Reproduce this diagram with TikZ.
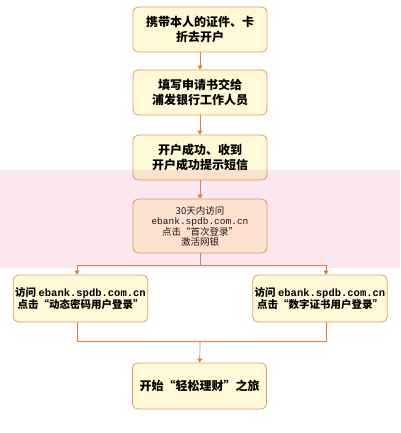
\documentclass[tikz,border=0pt]{standalone}
\usepackage{fontspec}
\setmainfont{Noto Sans CJK SC}
\newfontfamily\urlfont{Liberation Mono}
\usetikzlibrary{arrows.meta}

\definecolor{boxfill}{RGB}{255,249,216}
\definecolor{boxline}{RGB}{214,162,98}
\definecolor{flowline}{RGB}{212,130,70}
\definecolor{bandpink}{RGB}{236,110,160}

\tikzset{
  stepbox/.style={draw=boxline,fill=boxfill,rounded corners=5pt,line width=0.8pt,
    minimum width=134pt,minimum height=45pt,align=center,inner sep=2pt,
    font=\bfseries\fontsize{12}{14.5}\selectfont},
  smallbox/.style={stepbox,minimum width=133pt,minimum height=47pt,
    font=\bfseries\fontsize{10.5}{11.5}\selectfont},
  flow/.style={draw=flowline,line width=0.7pt},
  flowarrow/.style={flow,-{Triangle[width=5pt,length=4pt]}}
}

\begin{document}
\begin{tikzpicture}[x=1pt,y=-1pt]
  \useasboundingbox (0,0) rectangle (400,433);
  \node[stepbox] (carry) at (200,29.5) {携带本人的证件、卡\\折去开户};
  \node[stepbox] (apply) at (200,92.5) {填写申请书交给\\浦发银行工作人员};
  \node[stepbox] (sms) at (200,157.5) {开户成功、收到\\开户成功提示短信};
  \node[stepbox,minimum height=54pt,font=\fontsize{9.5}{10}\selectfont] (visit) at (200,226)
    {30天内访问\\{\urlfont ebank.spdb.com.cn}\\点击“首次登录”\\激活网银};
  \node[smallbox] (dyn) at (80.5,298.5) {访问 {\urlfont ebank.spdb.com.cn}\\点击“动态密码用户登录”};
  \node[smallbox] (cert) at (320,298.5) {访问 {\urlfont ebank.spdb.com.cn}\\点击“数字证书用户登录”};
  \node[stepbox,minimum height=46pt] (start) at (199.5,386) {开始“轻松理财”之旅};

  \coordinate (split) at (200,265);
  \coordinate (join) at (200,341);

  \draw[flowarrow] (carry) -- (apply);
  \draw[flowarrow] (apply) -- (sms);
  \draw[flowarrow] (sms) -- (visit);
  \draw[flow] (visit) -- (split);
  \draw[flowarrow] (split) -| ([xshift=-3.5pt]dyn.north);
  \draw[flowarrow] (split) -| ([xshift=6pt]cert.north);
  \draw[flow] ([xshift=-3.5pt]dyn.south) |- (join);
  \draw[flow] ([xshift=6pt]cert.south) |- (join);
  \draw[flowarrow] (join) -- (start);

  % pink band across the middle
  \fill[bandpink,fill opacity=0.17] (0,170) rectangle (400,268);
\end{tikzpicture}
\end{document}
